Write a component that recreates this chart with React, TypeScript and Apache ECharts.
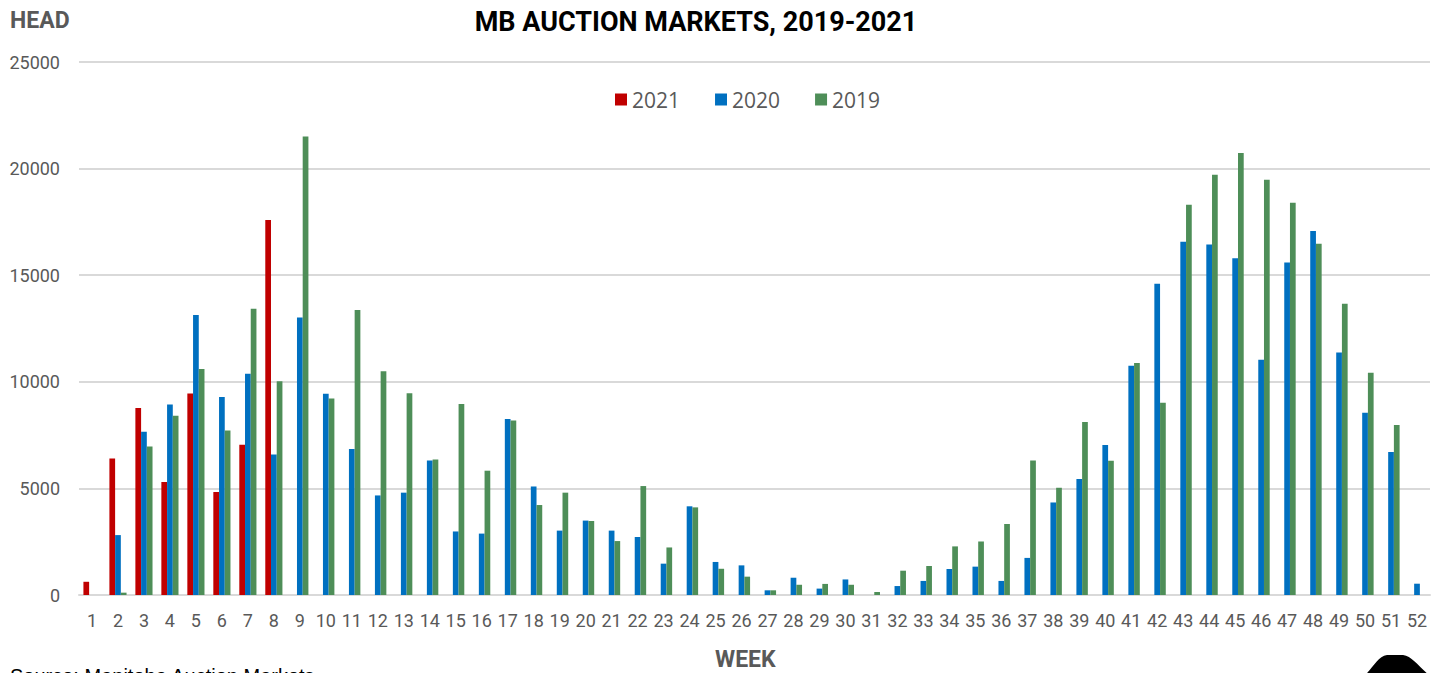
import React, { useEffect, useRef } from "react";
import * as echarts from "echarts";

const weeks: string[] = Array.from({ length: 52 }, (_, i) => String(i + 1));

const head2021: (number | null)[] = [
  620, 6400, 8770, 5300, 9450, 4830, 7050, 17590,
  null, null, null, null, null, null, null, null, null, null, null, null,
  null, null, null, null, null, null, null, null, null, null, null, null,
  null, null, null, null, null, null, null, null, null, null, null, null,
  null, null, null, null, null, null, null, null,
];

const head2020: (number | null)[] = [
  null, 2810, 7660, 8930, 13130, 9290, 10380, 6590, 13020, 9440,
  6850, 4670, 4800, 6310, 2980, 2880, 8250, 5090, 3020, 3490,
  3020, 2720, 1470, 4160, 1550, 1390, 220, 810, 300, 730,
  null, 420, 660, 1220, 1330, 660, 1740, 4340, 5440, 7040,
  10750, 14600, 16570, 16440, 15790, 11040, 15600, 17070, 11380, 8550,
  6710, 530,
];

const head2019: (number | null)[] = [
  null, 110, 6960, 8410, 10600, 7710, 13430, 10020, 21500, 9220,
  13370, 10490, 9460, 6350, 8960, 5830, 8180, 4220, 4800, 3470,
  2530, 5110, 2230, 4110, 1230, 860, 220, 480, 520, 480,
  140, 1140, 1360, 2280, 2510, 3330, 6310, 5030, 8110, 6300,
  10880, 9020, 18310, 19710, 20730, 19480, 18400, 16480, 13660, 10430,
  7970, null,
];

const yTicks = { min: 0, max: 25000, interval: 5000 };

const NARROW = "'Liberation Sans Narrow', 'Arial Narrow', 'Roboto', sans-serif";

echarts.graphic.registerShape(
  "logo",
  echarts.graphic.extendPath(
    "M0 20 C 8 13, 13 1, 22 0 L 38 0 C 47 1, 53 11, 64 20 L 64 30 L 0 30 Z",
    {}
  )
);

export default function App() {
  const ref = useRef<HTMLDivElement>(null);
  useEffect(() => {
    if (!ref.current) return;
    const chart = echarts.init(ref.current, null, { renderer: "svg" });
    chart.setOption({
      animation: false,
      backgroundColor: "#ffffff",
      title: {
        text: "MB AUCTION MARKETS, 2019-2021",
        left: 691,
        textAlign: "center",
        top: 3,
        textStyle: {
          fontFamily: NARROW,
          fontWeight: "bold",
          fontSize: 27,
          color: "#000000",
        },
      },
      legend: {
        top: 84,
        left: 610,
        itemWidth: 12,
        itemHeight: 12,
        itemGap: 35,
        icon: "rect",
        textStyle: {
          fontFamily: "'Open Sans', sans-serif",
          fontSize: 21,
          color: "#595959",
          padding: [0, 0, 0, 0],
        },
        data: ["2021", "2020", "2019"],
      },
      grid: { left: 79, right: 9, top: 62, bottom: 78 },
      xAxis: {
        type: "category",
        data: weeks,
        axisLine: { lineStyle: { color: "#d9d9d9", width: 2 } },
        axisTick: { show: false },
        axisLabel: {
          interval: 0,
          margin: 16,
          fontFamily: NARROW,
          fontSize: 18,
          color: "#595959",
        },
      },
      yAxis: {
        type: "value",
        min: yTicks.min,
        max: yTicks.max,
        interval: yTicks.interval,
        axisLine: { show: false },
        axisTick: { show: false },
        splitLine: { lineStyle: { color: "#d9d9d9", width: 2 } },
        axisLabel: {
          margin: 19,
          fontFamily: NARROW,
          fontSize: 18,
          color: "#595959",
          formatter: (v: number) => String(v),
        },
      },
      series: [
        {
          name: "2021",
          type: "bar",
          data: head2021,
          itemStyle: { color: "#C00000" },
          barGap: "0%",
          barCategoryGap: "34%",
        },
        {
          name: "2020",
          type: "bar",
          data: head2020,
          itemStyle: { color: "#0070C0" },
          barGap: "0%",
          barCategoryGap: "34%",
        },
        {
          name: "2019",
          type: "bar",
          data: head2019,
          itemStyle: { color: "#4E8E58" },
          barGap: "0%",
          barCategoryGap: "34%",
        },
      ],
      graphic: [
        {
          type: "text",
          left: 10,
          top: 9,
          style: {
            text: "HEAD",
            fontFamily: NARROW,
            fontWeight: "bold",
            fontSize: 23,
            fill: "#595959",
          },
        },
        {
          type: "text",
          left: 715,
          top: 648,
          style: {
            text: "WEEK",
            fontFamily: NARROW,
            fontWeight: "bold",
            fontSize: 23,
            fill: "#595959",
          },
        },
        {
          type: "text",
          left: 10,
          top: 666,
          style: {
            text: "Source: Manitoba Auction Markets",
            fontFamily: "'Liberation Sans', Arial, sans-serif",
            fontSize: 20,
            fill: "#000000",
          },
        },
        {
          type: "logo",
          x: 1365,
          y: 655,
          style: { fill: "#000000" },
        },
      ],
    });
    return () => chart.dispose();
  }, []);
  return (
    <div
      ref={ref}
      style={{ position: "fixed", left: 0, top: 0, width: 1439, height: 673 }}
    />
  );
}
